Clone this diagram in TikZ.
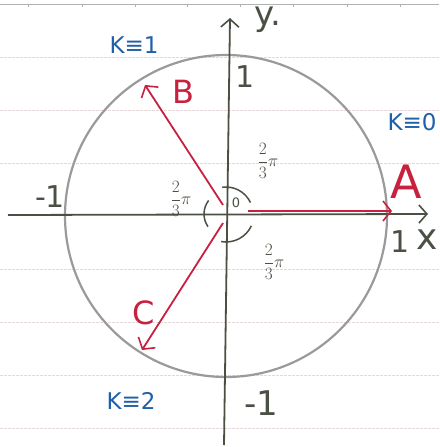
\documentclass[tikz,border=0pt]{standalone}
\usepackage{fontspec}
\setmainfont{DejaVu Sans}
\usetikzlibrary{arrows.meta}
\definecolor{axiscol}{HTML}{4A5043}
\definecolor{circcol}{HTML}{9A9A9A}
\definecolor{redcol}{HTML}{C8203F}
\definecolor{bluecol}{HTML}{2060A8}
\definecolor{papercol}{HTML}{E6D8D8}
\tikzset{
  axisline/.style={draw=axiscol, line width=1.8pt, -{Straight Barb[length=8pt,width=18pt,line width=1.6pt]}},
  vecline/.style={draw=redcol, line width=1.8pt, -{Straight Barb[length=8pt,width=20pt,line width=1.6pt]}},
  ruleline/.style={draw=papercol, line width=0.8pt, dash pattern=on 3pt off 1pt},
  blabel/.style={text=bluecol, font=\fontsize{23}{23}\selectfont, inner sep=0pt},
  rlabel/.style={text=redcol, font=\fontsize{32}{32}\selectfont, inner sep=0pt},
  klabel/.style={text=axiscol, font=\fontsize{30}{30}\selectfont, inner sep=0pt},
  fraclabel/.style={text=axiscol, font=\fontsize{17}{17}\selectfont, inner sep=0pt},
  anglearc/.style={draw=axiscol, line width=1.5pt}
}
\begin{document}
\begin{tikzpicture}[x=1pt,y=-1pt]
\useasboundingbox[fill=white] (0,0) rectangle (439,447);
% paper rules
\draw[draw=gray!60, line width=0.8pt] (0,4) -- (439,4);
\foreach \t in {28,82,135,187,240,293,347,400} \draw[draw=gray!60, line width=0.6pt] (\t,4) -- (\t,7);
\foreach \yy in {57,110,163,269,322,375,428} \draw[ruleline] (0,\yy) -- (439,\yy);
% circle
\coordinate (O) at (226,216);
\draw[draw=circcol, line width=2.2pt] (O) circle[radius=161];
% axes
\coordinate (xs) at (8,215);
\coordinate (xe) at (428,214);
\coordinate (ys) at (224,445);
\coordinate (ye) at (230,18);
\draw[axisline] (xs) -- (xe);
\draw[axisline] (ys) -- (ye);
% vectors
\coordinate (a0) at (248,211);
\coordinate (tipA) at (392,211);
\coordinate (b0) at (223,205);
\coordinate (tipB) at (145,85);
\coordinate (c0) at (223,223);
\coordinate (tipC) at (142,350);
\draw[vecline] (a0) -- (tipA);
\draw[vecline] (b0) -- (tipB);
\draw[vecline] (c0) -- (tipC);
% angle arcs
\draw[anglearc] (226,214) ++(100:28) arc[start angle=100, end angle=25, radius=28];
\draw[anglearc] (226,214) ++(145:22) arc[start angle=145, end angle=218, radius=22];
\draw[anglearc] (226,214) ++(262:27) arc[start angle=262, end angle=335, radius=27];
% labels
\node[rlabel, font=\fontsize{46}{46}\selectfont] (lA) at (406,182) {A};
\node[rlabel] (lB) at (183,92) {B};
\node[rlabel] (lC) at (144,313) {C};
\node[blabel] (k1) at (134,45) {K≡1};
\node[blabel] (k0) at (412,122) {K≡0};
\node[blabel] (k2) at (131,401) {K≡2};
\node[klabel, font=\fontsize{34}{34}\selectfont] (ly) at (268,20) {y.};
\node[klabel, font=\fontsize{36}{36}\selectfont] (lx) at (427,240) {x};
\node[klabel] (one1) at (245,77) {1};
\node[klabel] (onex) at (400,242) {1};
\node[klabel, font=\fontsize{34}{34}\selectfont] (mone) at (261,403) {-1};
\node[klabel] (monex) at (50,197) {-1};
\node[fraclabel, font=\fontsize{13}{13}\selectfont] (zero) at (236,203) {0};
\node[fraclabel] (f1) at (268,161) {$\displaystyle\frac{2}{3}\pi$};
\node[fraclabel] (f2) at (274,262) {$\displaystyle\frac{2}{3}\pi$};
\node[fraclabel] (f3) at (181,199) {$\displaystyle\frac{2}{3}\pi$};
\end{tikzpicture}
\end{document}
